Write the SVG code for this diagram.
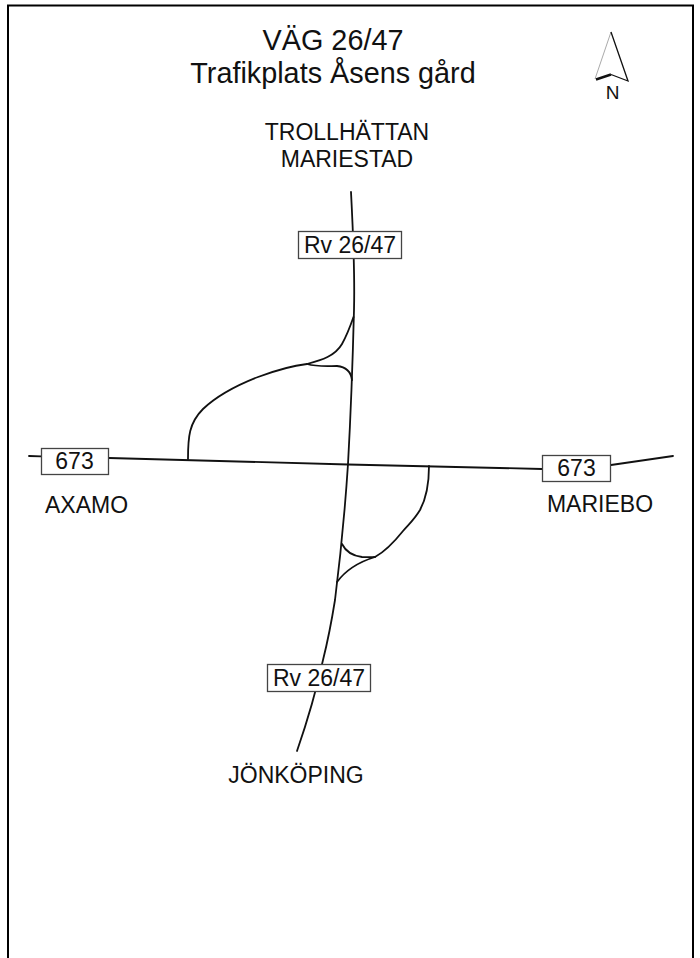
<svg xmlns="http://www.w3.org/2000/svg" width="700" height="958" viewBox="0 0 700 958">
<style>
text{font-family:"Liberation Sans",Arial,sans-serif;fill:#111}
.t{font-size:28.800px;text-anchor:middle}
.l{font-size:23px;text-anchor:middle}
.r{fill:none;stroke:#111;stroke-width:1.800;stroke-linecap:round;stroke-linejoin:round}
.b{fill:#fff;stroke:#444;stroke-width:1.300}
</style>
<path d="M8 958V5.500H693V958" fill="none" stroke="#000" stroke-width="2"/>
<g id="title"><text class="t" x="333" y="50">VÄG 26/47</text><text class="t" x="333" y="83">Trafikplats Åsens gård</text></g>
<g id="north"><path d="M611 32L595 79" fill="none" stroke="#aaa" stroke-width="1"/><path d="M611 32L628 81L611 74.500" fill="none" stroke="#111" stroke-width="1.300"/><path d="M596 79.500L611 74.500" fill="none" stroke="#111" stroke-width="2.500"/><text x="612.500" y="99" font-size="19" text-anchor="middle">N</text></g>
<g id="connectors">
<path class="r" d="M351 192C353 230 355 270 354 310C353 350 351 410 348 464C345 510 340 560 335 600C331 625 328 640 323 660C316 692 306 725 297 751"/>
<path class="r" d="M29 456L41 456.300M109 458L348 464.500L542 469"/>
<path class="r" d="M611 465L673 456"/>
<path class="r" d="M188 459C188 437 189 423 203 409C220 393 240 384 258 377C274 371 290 366 307 364C322 360 335 356 342 344C347 335 350 327 353.500 317"/>
<path class="r" d="M307 364C317 367 328 366 337 366C346 367 351 372 352 380"/>
<path class="r" d="M429 466C429 484 427 497 420 510C414 520 409 524 403 531C395 541 386 551 375 557C362 561 348 567 337 582"/>
<path class="r" d="M342 544C346 552 354 556 362 557C368 557.500 372 557 375 557"/>
</g>
<g id="shield-n"><rect class="b" x="298.500" y="231.500" width="103" height="27"/><text class="l" x="350" y="253">Rv 26/47</text></g>
<g id="shield-s"><rect class="b" x="267.500" y="664.500" width="103" height="27"/><text class="l" x="319" y="686">Rv 26/47</text></g>
<g id="shield-w"><rect class="b" x="41.500" y="448.500" width="67" height="26"/><text class="l" x="74.500" y="469">673</text></g>
<g id="shield-e"><rect class="b" x="542.500" y="455.500" width="68" height="26"/><text class="l" x="576.500" y="476">673</text></g>
<g id="labels">
<text class="l" x="347" y="140">TROLLHÄTTAN</text><text class="l" x="347" y="167">MARIESTAD</text>
<text class="l" x="86.500" y="513">AXAMO</text><text class="l" x="600" y="512">MARIEBO</text><text class="l" x="296" y="783">JÖNKÖPING</text>
</g>
</svg>
